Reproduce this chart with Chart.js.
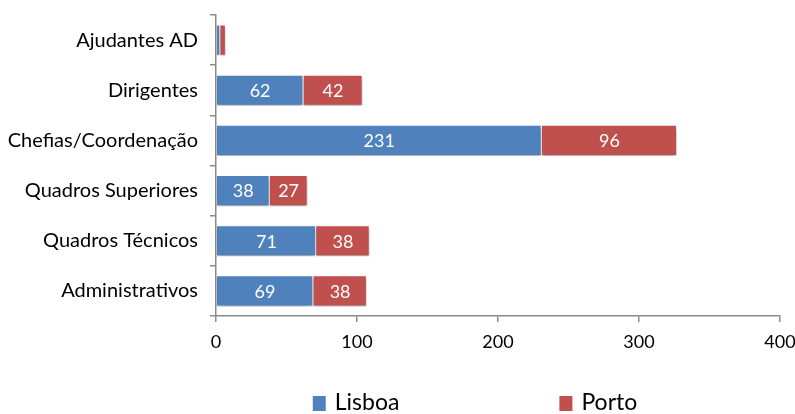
<!DOCTYPE html>
<html>
<head>
<meta charset="utf-8">
<title>Lisboa / Porto</title>
<script src="https://cdn.jsdelivr.net/npm/chart.js@4/dist/chart.umd.min.js"></script>
<style>
  html, body { margin: 0; padding: 0; background: #fff; }
  #wrap { width: 795px; height: 414px; }
</style>
</head>
<body>
<div id="wrap"><canvas id="chart"></canvas></div>
<script>
const categories = ['Ajudantes AD', 'Dirigentes', 'Chefias/Coordenação', 'Quadros Superiores', 'Quadros Técnicos', 'Administrativos'];
const lisboa = [3, 62, 231, 38, 71, 69];
const porto = [4, 42, 96, 27, 38, 38];
const xTicks = [0, 100, 200, 300, 400];

const FONT = 'Lato, "Liberation Sans", sans-serif';
const axisColor = '#8a8a8a';

// soft drop shadow under the bars
const barShadow = {
    id: 'barShadow',
    beforeDatasetsDraw(chart) {
        const ctx = chart.ctx;
        ctx.save();
        ctx.shadowColor = 'rgba(0,0,0,0.35)';
        ctx.shadowBlur = 4;
        ctx.shadowOffsetX = 0;
        ctx.shadowOffsetY = 3;
    },
    afterDatasetsDraw(chart) {
        chart.ctx.restore();
    }
};

// white values in the middle of each segment
const segmentLabels = {
    id: 'segmentLabels',
    afterDatasetsDraw(chart) {
        const ctx = chart.ctx;
        ctx.save();
        ctx.font = '18px ' + FONT;
        ctx.fillStyle = '#fff';
        ctx.textAlign = 'center';
        ctx.textBaseline = 'middle';
        chart.data.datasets.forEach((ds, i) => {
            const meta = chart.getDatasetMeta(i);
            meta.data.forEach((bar, j) => {
                const v = ds.data[j];
                if (v < 10) return;
                const p = bar.getProps(['x', 'y', 'base'], true);
                ctx.fillText(String(v), (p.x + p.base) / 2, p.y + 1);
            });
        });
        ctx.restore();
    }
};

// legend row under the axis, items spread apart
const wideLegend = {
    id: 'wideLegend',
    afterDraw(chart) {
        const ctx = chart.ctx;
        const gap = 160, box = 13, boxH = 15, textGap = 9;
        const baseline = 410;
        ctx.save();
        ctx.font = '23px ' + FONT;
        ctx.textBaseline = 'alphabetic';
        ctx.textAlign = 'left';
        const items = chart.data.datasets.map(ds => ({
            label: ds.label,
            color: ds.backgroundColor,
            w: box + textGap + ctx.measureText(ds.label).width
        }));
        const total = items.reduce((s, it) => s + it.w, 0) + gap * (items.length - 1);
        let x = 475 - total / 2;
        items.forEach(it => {
            ctx.fillStyle = it.color;
            ctx.fillRect(x, baseline - boxH + 1, box, boxH);
            ctx.fillStyle = '#000';
            ctx.fillText(it.label, x + box + textGap, baseline);
            x += it.w + gap;
        });
        ctx.restore();
    }
};

new Chart(document.getElementById('chart'), {
    type: 'bar',
    data: {
        labels: categories,
        datasets: [
            { label: 'Lisboa', data: lisboa, backgroundColor: '#4F81BD', borderColor: '#fff', borderWidth: 1 },
            { label: 'Porto', data: porto, backgroundColor: '#C0504D', borderColor: '#fff', borderWidth: 1 }
        ]
    },
    options: {
        indexAxis: 'y',
        responsive: true,
        maintainAspectRatio: false,
        animation: false,
        barPercentage: 0.62,
        categoryPercentage: 1,
        layout: { padding: { top: 15, right: 0, bottom: 38, left: 0 } },
        plugins: {
            legend: { display: false },
            tooltip: { enabled: false }
        },
        scales: {
            x: {
                stacked: true,
                min: xTicks[0],
                max: xTicks[xTicks.length - 1],
                afterBuildTicks: scale => { scale.ticks = xTicks.map(v => ({ value: v })); },
                afterFit: scale => {
                    scale.height = 60;
                    scale.paddingLeft = 0;
                    scale.paddingRight = 15;
                },
                grid: { drawOnChartArea: false, tickLength: 6, color: axisColor, lineWidth: 1.5 },
                border: { color: axisColor, width: 1.5 },
                ticks: { color: '#000', font: { family: FONT, size: 18 }, padding: 9 }
            },
            y: {
                stacked: true,
                afterFit: scale => {
                    scale.width = 216;
                    scale.paddingTop = 0;
                    scale.paddingBottom = 0;
                },
                grid: { offset: true, drawOnChartArea: false, tickLength: 6, color: axisColor, lineWidth: 1.5 },
                border: { color: axisColor, width: 1.5 },
                ticks: { color: '#000', font: { family: FONT, size: 20 }, padding: 12 }
            }
        }
    },
    plugins: [barShadow, segmentLabels, wideLegend]
});
</script>
</body>
</html>
